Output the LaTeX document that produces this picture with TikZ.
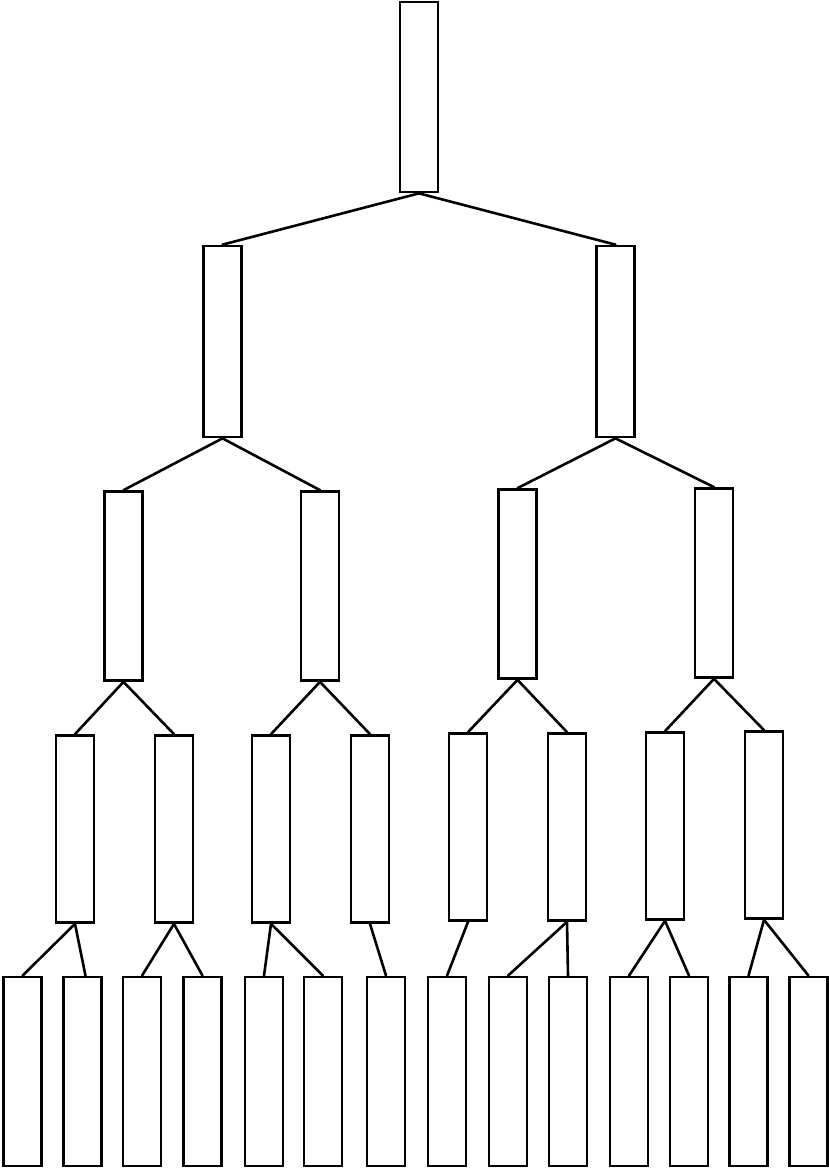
\documentclass[tikz,border=0pt]{standalone}
\begin{document}
\begin{tikzpicture}[x=1pt,y=-1pt,
  box/.style={draw=black,line width=2.7pt,inner sep=0pt,minimum width=38pt},
  link/.style={draw=black,line width=2.6pt,line cap=round}]
\useasboundingbox (0,0) rectangle (828,1170);
% root
\node[box,minimum height=190pt] (r) at (419,97) {};
% level 1
\node[box,minimum height=191pt] (a1) at (222.5,341.5) {};
\node[box,minimum height=191pt] (a2) at (615.5,341.5) {};
% level 2
\node[box,minimum height=189pt] (b1) at (123.5,586) {};
\node[box,minimum height=189pt] (b2) at (320,586) {};
\node[box,minimum height=189pt] (b3) at (517.5,584) {};
\node[box,minimum height=189pt] (b4) at (714,583) {};
% level 3
\foreach \n/\x/\y in {1/75/829,2/174/829,3/271/829,4/370/829,5/468/827,6/567/827,7/665/826,8/764/825}
  \node[box,minimum height=187pt] (c\n) at (\x,\y) {};
% level 4
\foreach \n/\x in {1/22.5,2/82.5,3/142,4/202.5,5/264,6/323,7/386,8/447,9/508,10/568,11/629,12/689,13/748.5,14/808.5}
  \node[box,minimum height=189pt] (d\n) at (\x,1071.5) {};
% connectors
\draw[link] (r.south) -- (a1.north);
\draw[link] (r.south) -- (a2.north);
\draw[link] (a1.south) -- (b1.north);
\draw[link] (a1.south) -- (b2.north);
\draw[link] (a2.south) -- (b3.north);
\draw[link] (a2.south) -- (b4.north);
\draw[link] (b1.south) -- (c1.north);
\draw[link] (b1.south) -- (c2.north);
\draw[link] (b2.south) -- (c3.north);
\draw[link] (b2.south) -- (c4.north);
\draw[link] (b3.south) -- (c5.north);
\draw[link] (b3.south) -- (c6.north);
\draw[link] (b4.south) -- (c7.north);
\draw[link] (b4.south) -- (c8.north);
\draw[link] (c1.south) -- (d1.north);
\draw[link] (c1.south) -- ([xshift=3pt]d2.north);
\draw[link] (c2.south) -- (d3.north);
\draw[link] (c2.south) -- (d4.north);
\draw[link] (c3.south) -- (d5.north);
\draw[link] (c3.south) -- (d6.north);
\draw[link] (c4.south) -- (d7.north);
\draw[link] (c5.south) -- (d8.north);
\draw[link] (c6.south) -- (d9.north);
\draw[link] (c6.south) -- (d10.north);
\draw[link] (c7.south) -- (d11.north);
\draw[link] (c7.south) -- (d12.north);
\draw[link] (c8.south) -- (d13.north);
\draw[link] (c8.south) -- (d14.north);
\end{tikzpicture}
\end{document}
